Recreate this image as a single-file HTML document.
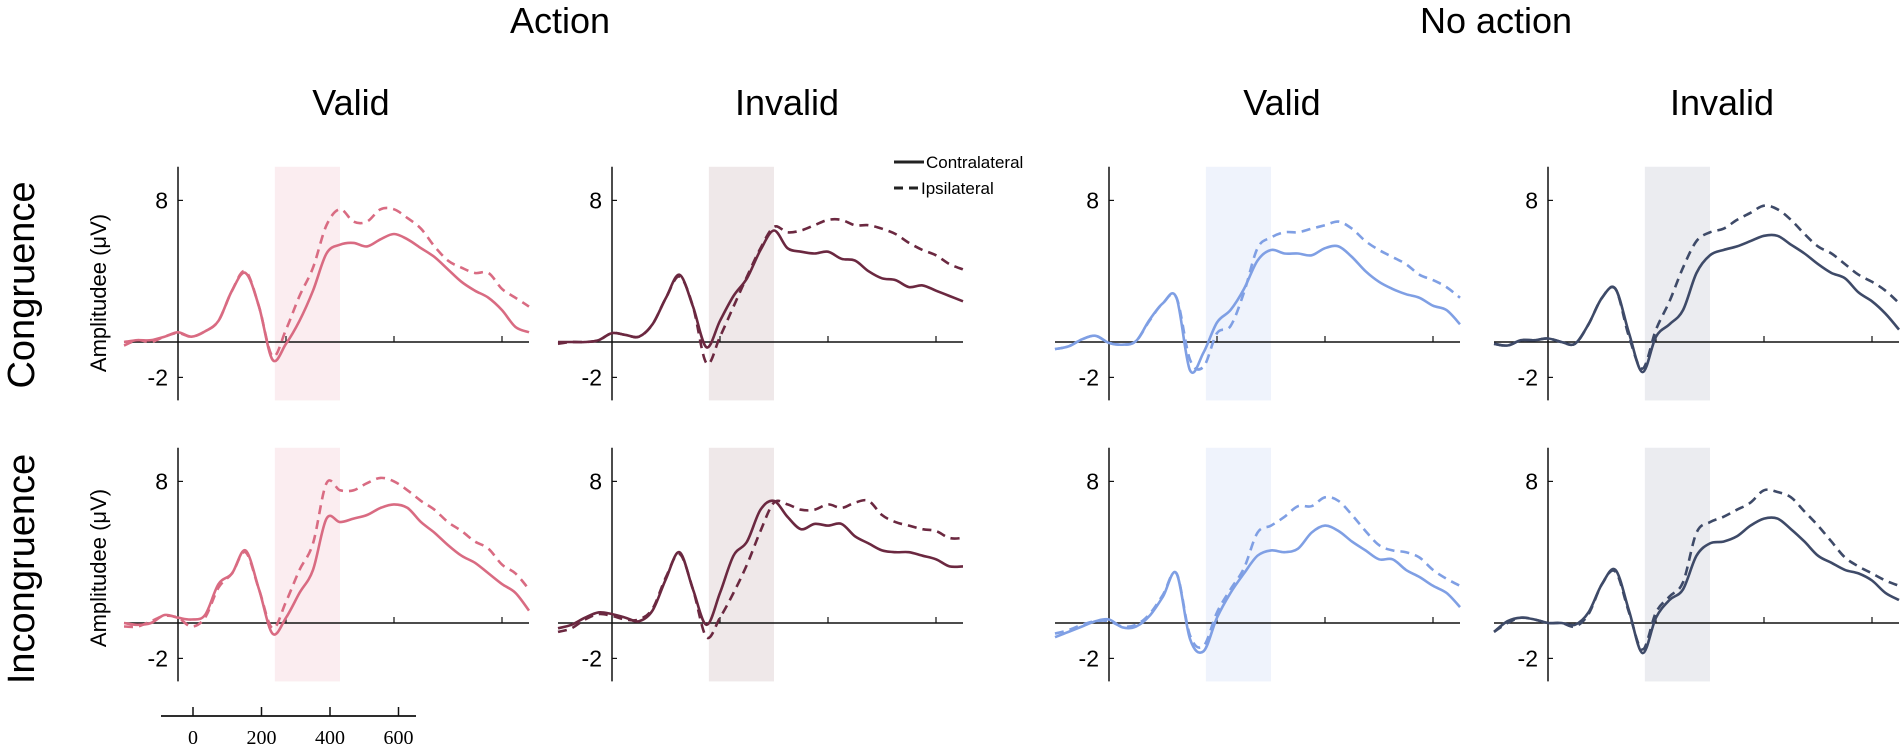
<!DOCTYPE html>
<html><head><meta charset="utf-8">
<style>
html,body{margin:0;padding:0;background:#fff;}
svg{display:block;font-family:"Liberation Sans",sans-serif;}
</style></head>
<body>
<svg id="chart" width="1902" height="746" viewBox="0 0 1902 746" xmlns="http://www.w3.org/2000/svg">
  <text x="560" y="33" font-size="36" text-anchor="middle">Action</text>
  <text x="1496" y="33" font-size="36" text-anchor="middle">No action</text>
  <text x="351" y="115" font-size="36" text-anchor="middle">Valid</text>
  <text x="787" y="115" font-size="36" text-anchor="middle">Invalid</text>
  <text x="1282" y="115" font-size="36" text-anchor="middle">Valid</text>
  <text x="1722" y="115" font-size="36" text-anchor="middle">Invalid</text>
  <text transform="translate(34,285) rotate(-90)" font-size="38" text-anchor="middle">Congruence</text>
  <text transform="translate(34,569) rotate(-90)" font-size="38" text-anchor="middle">Incongruence</text>
  <text transform="translate(106,293) rotate(-90)" font-size="22" text-anchor="middle">Amplitudee (μV)</text>
  <text transform="translate(106,568) rotate(-90)" font-size="22" text-anchor="middle">Amplitudee (μV)</text>
  <g>
    <line x1="894" y1="162" x2="924" y2="162" stroke="#222" stroke-width="3"/>
    <text x="926" y="168" font-size="17">Contralateral</text>
    <line x1="894" y1="188" x2="918" y2="188" stroke="#222" stroke-width="3" stroke-dasharray="9,6"/>
    <text x="921" y="194" font-size="17">Ipsilateral</text>
  </g>
  <g id="panels"></g>
  <g id="scalebar"></g>
</svg>
<script>
// shared time grid (ms), -160..1040 step 40
const times = [-160,-120,-80,-40,0,40,80,120,160,200,240,280,320,360,400,440,480,520,560,600,640,680,720,760,800,840,880,920,960,1000,1040];
const yTicks = [8, -2];
const scaleTicks = [0, 200, 400, 600];
const shadeRange = [287, 480];

const p1r1Contra = [0,0.1,0.1,0.3,0.55,0.3,0.6,1.2,2.9,3.9,2.0,-1.0,-0.1,1.2,2.9,5.0,5.5,5.6,5.4,5.8,6.1,5.8,5.3,4.8,4.1,3.4,2.9,2.5,1.8,0.85,0.55];
const p1r1Ipsi   = [-0.2,0.1,0.0,0.3,0.5,0.3,0.6,1.2,2.9,4.0,2.0,-0.8,0.7,2.6,4.2,6.6,7.5,6.8,6.8,7.5,7.5,7.0,6.4,5.4,4.6,4.2,3.9,3.9,3.0,2.5,2.0];
const p2r1Contra = [0,0,0,0.1,0.5,0.4,0.3,1.0,2.5,3.8,2.0,-0.3,1.2,2.6,3.6,5.2,6.3,5.3,5.1,5.0,5.1,4.7,4.6,4.0,3.6,3.5,3.1,3.2,2.9,2.6,2.3];
const p2r1Ipsi   = [-0.1,0,0,0.1,0.5,0.4,0.3,1.0,2.5,3.7,2.0,-1.2,0.3,2.0,3.7,5.3,6.5,6.2,6.3,6.6,6.9,6.9,6.6,6.6,6.4,6.1,5.6,5.2,4.9,4.4,4.1];
const p3r1Contra = [-0.4,-0.25,0.15,0.35,-0.05,-0.15,0.05,1.25,2.2,2.5,-1.6,-0.6,1.1,1.8,3.0,4.6,5.2,5.0,5.0,4.9,5.3,5.4,4.8,4.0,3.4,3.0,2.7,2.5,2.05,1.8,1.0];
const p3r1Ipsi   = [-0.4,-0.25,0.15,0.35,-0.05,-0.15,0.05,1.2,2.2,2.5,-1.0,-1.4,0.5,0.9,2.8,5.3,5.9,6.2,6.2,6.4,6.6,6.8,6.4,5.7,5.2,4.8,4.4,3.8,3.5,3.1,2.5];
const p4r1Contra = [-0.1,-0.2,0.1,0.1,0.2,0.0,-0.1,1.0,2.5,3.0,0.5,-1.7,0.3,1.0,1.8,3.9,4.9,5.2,5.4,5.7,6.0,6.0,5.5,5.0,4.4,3.9,3.6,2.8,2.3,1.6,0.7];
const p4r1Ipsi   = [-0.1,-0.2,0.1,0.1,0.2,0.0,-0.1,1.0,2.5,3.0,0.3,-1.5,0.7,2.3,4.2,5.7,6.2,6.4,6.9,7.3,7.7,7.5,6.9,6.1,5.4,5.0,4.4,3.8,3.4,2.9,2.2];

const p1r2Contra = [0,-0.1,0,0.45,0.3,0.2,0.45,2.2,2.8,4.1,1.9,-0.6,0.3,1.7,3.0,5.9,5.7,5.9,6.1,6.5,6.7,6.5,5.7,5.1,4.4,3.8,3.4,2.8,2.2,1.7,0.7];
const p1r2Ipsi   = [-0.2,-0.2,0.1,0.4,0.3,-0.2,0.3,2.0,2.8,4.0,1.9,-0.3,1.2,3.0,4.5,7.9,7.5,7.5,7.9,8.2,8.0,7.5,6.9,6.4,5.7,5.2,4.6,4.2,3.3,2.8,1.9];
const p2r2Contra = [-0.3,-0.1,0.3,0.6,0.5,0.3,0.1,0.7,2.5,4.0,1.9,-0.1,1.7,3.8,4.6,6.4,6.9,6.0,5.3,5.6,5.5,5.6,4.9,4.5,4.1,4.0,4.0,3.8,3.6,3.2,3.2];
const p2r2Ipsi   = [-0.5,-0.3,0.2,0.5,0.4,0.2,0.2,0.8,2.6,3.9,1.9,-0.8,0.3,1.7,3.3,5.2,6.8,6.7,6.4,6.4,6.7,6.5,6.8,6.9,6.1,5.7,5.5,5.3,5.2,4.8,4.8];
const p3r2Contra = [-0.8,-0.5,-0.2,0.1,0.2,-0.25,-0.2,0.4,1.5,2.8,-0.9,-1.6,0.3,1.7,2.8,3.8,4.1,4.0,4.2,5.1,5.5,5.2,4.6,4.1,3.6,3.6,3.0,2.6,2.1,1.7,0.9];
const p3r2Ipsi   = [-0.6,-0.4,-0.1,0.1,0.1,-0.2,-0.1,0.5,1.6,2.8,-0.7,-1.3,0.6,1.9,3.1,5.1,5.5,6.0,6.6,6.6,7.1,6.9,6.1,5.2,4.4,4.1,4.0,3.7,3.0,2.5,2.1];
const p4r2Contra = [-0.5,0.1,0.3,0.2,0.0,0.0,-0.1,0.6,2.2,3.0,0.7,-1.7,0.3,1.3,1.9,3.8,4.5,4.6,4.9,5.5,5.9,5.9,5.3,4.6,3.8,3.4,3.0,2.8,2.4,1.7,1.3];
const p4r2Ipsi   = [-0.5,0.0,0.3,0.2,0.0,0.0,-0.2,0.5,2.2,2.9,0.6,-1.5,0.6,1.5,2.3,5.1,5.7,6.0,6.4,6.8,7.5,7.4,7.1,6.3,5.5,4.6,3.7,3.2,2.8,2.4,2.1];

const NS = "http://www.w3.org/2000/svg";
const PXMS = 0.3375, PXUV = 17.7;
const colStarts = [124, 558, 1055, 1494];
const rowZeros = [342, 623];
const colors = ["#d96b82", "#6b2840", "#7f9fe4", "#3e4a68"];
const shades = ["#fbedf0", "#efe8e9", "#eff3fc", "#ebecf0"];
const series = [
  [[p1r1Contra,p1r1Ipsi],[p2r1Contra,p2r1Ipsi],[p3r1Contra,p3r1Ipsi],[p4r1Contra,p4r1Ipsi]],
  [[p1r2Contra,p1r2Ipsi],[p2r2Contra,p2r2Ipsi],[p3r2Contra,p3r2Ipsi],[p4r2Contra,p4r2Ipsi]]
];
const root = document.getElementById('panels');
function mk(tag, attrs, parent){ const e=document.createElementNS(NS,tag); for(const k in attrs) e.setAttribute(k,attrs[k]); parent.appendChild(e); return e; }
function smoothPath(pts){
  let d = `M${pts[0][0].toFixed(1)},${pts[0][1].toFixed(1)}`;
  for(let i=0;i<pts.length-1;i++){
    const p0=pts[Math.max(0,i-1)], p1=pts[i], p2=pts[i+1], p3=pts[Math.min(pts.length-1,i+2)];
    const c1=[p1[0]+(p2[0]-p0[0])/6, p1[1]+(p2[1]-p0[1])/6];
    const c2=[p2[0]-(p3[0]-p1[0])/6, p2[1]-(p3[1]-p1[1])/6];
    d += ` C${c1[0].toFixed(1)},${c1[1].toFixed(1)} ${c2[0].toFixed(1)},${c2[1].toFixed(1)} ${p2[0].toFixed(1)},${p2[1].toFixed(1)}`;
  }
  return d;
}
for(let r=0;r<2;r++){
  for(let c=0;c<4;c++){
    const x0 = colStarts[c], z = rowZeros[r];
    const xs = ms => x0 + (ms - times[0]) * PXMS;
    const ys = v => z - v * PXUV;
    const g = mk('g', {}, root);
    
    
    const top = ys(9.9), bot = ys(-3.3);
    const sh = mk('rect', {x:xs(shadeRange[0]), y:top, width:xs(shadeRange[1])-xs(shadeRange[0]), height:bot-top, fill:shades[c]}, g);
    
    
    const ax = xs(0);
    const yl = mk('line', {x1:ax, y1:top, x2:ax, y2:bot, stroke:'#111', 'stroke-width':1.5}, g);
    
    
    const zl = mk('line', {x1:x0, y1:z, x2:xs(times[times.length-1]), y2:z, stroke:'#111', 'stroke-width':1.5}, g);
    
    
    [320, 640, 960].forEach(t => {
      const tk = mk('line', {x1:xs(t), y1:z-6, x2:xs(t), y2:z, stroke:'#111', 'stroke-width':1.2}, g);
      
      
    });
    yTicks.forEach(v => {
      const tk = mk('line', {x1:ax, y1:ys(v), x2:ax+5, y2:ys(v), stroke:'#111', 'stroke-width':1.2}, g);
      
      
      const tl = mk('text', {x:ax-10, y:ys(v)+8, 'font-size':23, 'text-anchor':'end'}, g);
      tl.textContent = String(v);
      
      
    });
    series[r][c].forEach((vals, si) => {
      const pts = vals.map((v,i)=>[xs(times[i]), ys(v)]);
      const p = mk('path', {d:smoothPath(pts), fill:'none', stroke:colors[c], 'stroke-width':2.6, 'stroke-linejoin':'round'}, g);
      if(si===1) p.setAttribute('stroke-dasharray','9,6');
      
      
    });
  }
}
// scale bar
const sb = document.getElementById('scalebar');
const sbX = ms => 193 + ms * 0.3425;
const bar = mk('line', {x1:161, y1:716, x2:416, y2:716, stroke:'#111', 'stroke-width':1.8}, sb);


scaleTicks.forEach(t => {
  const tk = mk('line', {x1:sbX(t), y1:707, x2:sbX(t), y2:716, stroke:'#111', 'stroke-width':1.5}, sb);
  
  
  const tl = mk('text', {x:sbX(t), y:744, 'font-size':20, 'text-anchor':'middle', 'font-family':'"Liberation Serif",serif'}, sb);
  tl.textContent = String(t);
  
  
});
</script>
</body></html>
